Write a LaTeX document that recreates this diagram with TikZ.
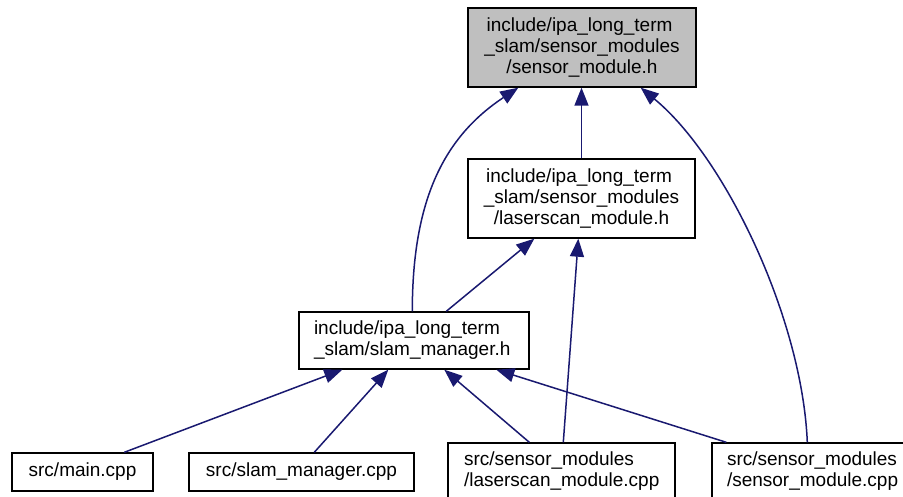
\documentclass[tikz,border=0pt]{standalone}
\usepackage{fontspec}
\setmainfont{Liberation Sans}
\usetikzlibrary{arrows.meta}
\definecolor{edgeblue}{RGB}{25,25,112}
\definecolor{hdrgray}{RGB}{191,191,191}
\begin{document}
\begin{tikzpicture}[x=1pt,y=-1pt,
  box/.style={draw=black, line width=1.4pt, inner sep=0pt,
    font=\fontsize{19}{21}\selectfont, align=center},
  lbox/.style={draw=black, line width=1.4pt, inner ysep=0pt,
    font=\fontsize{19}{21}\selectfont, align=left},
  dep/.style={draw=edgeblue, line width=1.5pt,
    -{Triangle[length=18pt,width=14pt]}},
]
\clip (0,0) rectangle (903,497);
\fill[white] (0,0) rectangle (903,497);

% header files
\node[box, fill=hdrgray, minimum width=228pt, minimum height=79pt] (top) at (582,47.5)
  {include/ipa\_long\_term\hspace*{5pt}\\\_slam/sensor\_modules\\/sensor\_module.h};
\node[box, minimum width=227pt, minimum height=79pt] (mid) at (581.5,198.5)
  {include/ipa\_long\_term\hspace*{5pt}\\\_slam/sensor\_modules\\/laserscan\_module.h};
\node[lbox, inner xsep=15pt, text width=200pt, minimum height=57pt] (slam) at (414,340.5)
  {include/ipa\_long\_term\\\_slam/slam\_manager.h};

% source files
\node[box, minimum width=141pt, minimum height=38pt] (main) at (82.5,472) {src/main.cpp};
\node[box, minimum width=225pt, minimum height=38pt] (smc) at (301.5,472) {src/slam\_manager.cpp};
\node[lbox, inner xsep=16pt, text width=195pt, minimum height=57pt] (lsc) at (561.5,471.5)
  {src/sensor\_modules\\/laserscan\_module.cpp};
\node[lbox, inner xsep=15pt, text width=172pt, minimum height=57pt] (smcpp) at (813,471.5)
  {src/sensor\_modules\\/sensor\_module.cpp};

% include dependencies
\draw[dep] (mid.north) -- (mid.north |- top.south);
\draw[dep] ([xshift=114pt]slam.north west)
  .. controls +(0,-112) and +(-74,49) .. ([xshift=51pt]top.south west);
\draw[dep] ([xshift=96pt]smcpp.north west)
  .. controls +(-5,-123) and +(85,70) .. ([xshift=-56pt]top.south east);
\draw[dep] ([xshift=148pt]slam.north west) -- ([xshift=67pt]mid.south west);
\draw[dep] ([xshift=116pt]lsc.north west) -- ([xshift=111pt]mid.south west);
\draw[dep] ([xshift=113pt]main.north west) -- ([xshift=44pt]slam.south west);
\draw[dep] ([xshift=126pt]smc.north west) -- ([xshift=90pt]slam.south west);
\draw[dep] ([xshift=82pt]lsc.north west) -- ([xshift=146pt]slam.south west);
\draw[dep] ([xshift=15pt]smcpp.north west) -- ([xshift=198pt]slam.south west);
\end{tikzpicture}
\end{document}
